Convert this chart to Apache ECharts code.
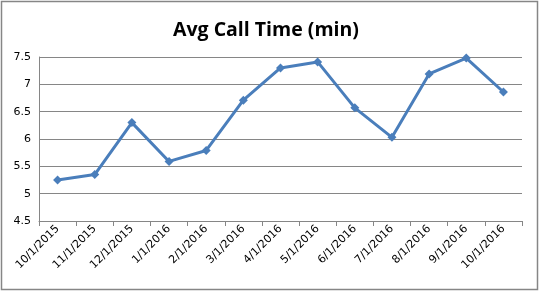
<!DOCTYPE html>
<html><head><meta charset="utf-8">
<script src="https://cdn.jsdelivr.net/npm/echarts@6/dist/echarts.min.js"></script>
<style>html,body{margin:0;padding:0;background:#fff}#c{width:540px;height:292px}</style>
</head><body><div id="c"></div>
<script>
const categories = ["10/1/2015","11/1/2015","12/1/2015","1/1/2016","2/1/2016","3/1/2016","4/1/2016","5/1/2016","6/1/2016","7/1/2016","8/1/2016","9/1/2016","10/1/2016"];
const avgCallTime = [5.25, 5.35, 6.3, 5.59, 5.79, 6.71, 7.3, 7.41, 6.57, 6.03, 7.19, 7.48, 6.86];
const yTicks = { min: 4.5, max: 7.5, interval: 0.5 };

const chart = echarts.init(document.getElementById('c'), null, {renderer:'canvas'});
chart.setOption({
  animation: false,
  title: {
    text: 'Avg Call Time (min)', left: 168, top: 15,
    textStyle: { fontFamily: 'Open Sans', fontWeight: 'bold', fontSize: 19.5, color: '#000' }
  },
  graphic: [{
    type: 'rect', shape: { x: 1.5, y: 1.5, width: 536, height: 288 },
    style: { fill: 'none', stroke: '#868686', lineWidth: 1.5 }, z: -1
  }],
  grid: { left: 39, right: 18, top: 57, bottom: 71 },
  xAxis: {
    type: 'category', data: categories, boundaryGap: true,
    axisLine: { lineStyle: { color: '#868686', width: 1 } },
    axisTick: { show: true, alignWithLabel: false, length: 5, lineStyle: { color: '#868686' } },
    axisLabel: { rotate: 45, interval: 0, fontFamily: 'DejaVu Sans', fontSize: 11, color: '#000', margin: 6 }
  },
  yAxis: {
    type: 'value', min: yTicks.min, max: yTicks.max, interval: yTicks.interval,
    axisLine: { show: true, lineStyle: { color: '#868686', width: 1 } },
    axisTick: { show: false },
    axisLabel: { fontFamily: 'DejaVu Sans', fontSize: 11, color: '#000', margin: 8 },
    splitLine: { lineStyle: { color: '#868686', width: 1 } }
  },
  series: [{
    type: 'line', data: avgCallTime,
    lineStyle: { color: '#4a7ebb', width: 3 },
    itemStyle: { color: '#4a7ebb' },
    symbol: 'diamond', symbolSize: 9, showAllSymbol: true
  }]
});
</script></body></html>
